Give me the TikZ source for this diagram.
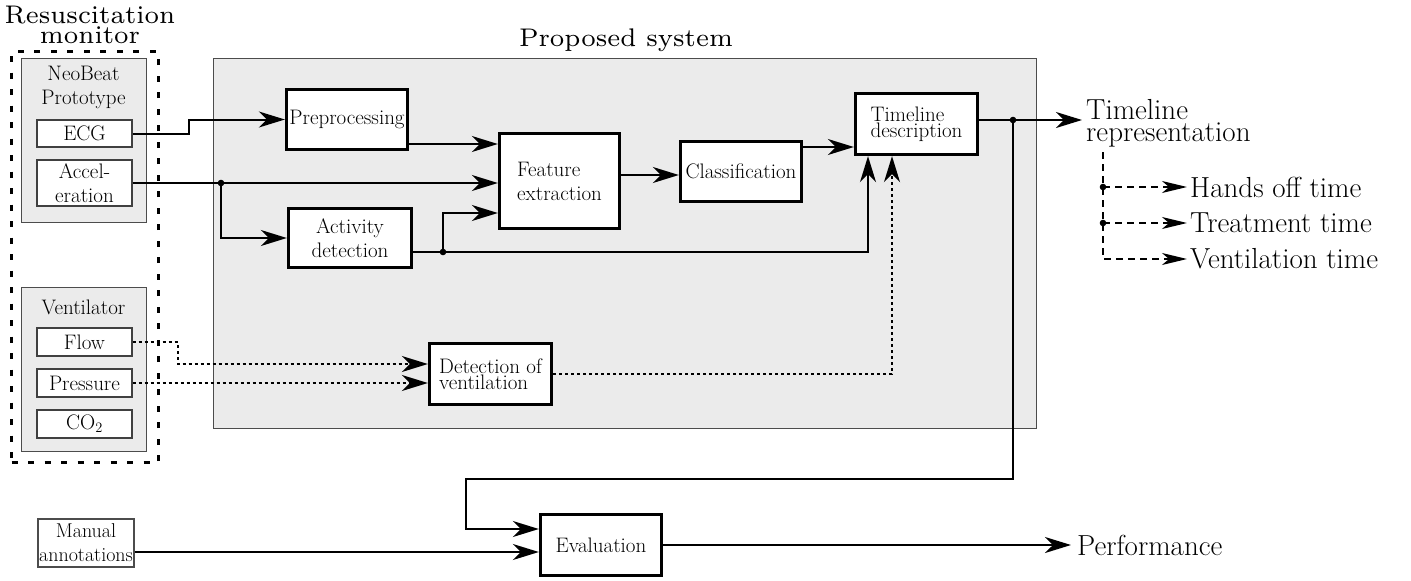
\documentclass[tikz,border=0pt]{standalone}
\usepackage{fontspec}
\newfontfamily\titlefont{lmroman7-regular.otf}
\usetikzlibrary{arrows.meta,calc}
\definecolor{bg}{HTML}{EBEBEB}
\newcommand\boxfont{\fontsize{21}{24}\selectfont}
\newcommand\manfont{\fontsize{20}{24}\selectfont}
\newcommand\tightfont{\fontsize{21}{16}\selectfont}
\newcommand\bigfont{\fontsize{29}{22}\selectfont}
\newcommand\ttlfont{\titlefont\fontsize{25.5}{20}\selectfont}
\tikzset{
  grp/.style={draw=black!70, line width=1.3pt, fill=bg, inner sep=0pt},
  sbox/.style={draw=black!75, line width=1.3pt, fill=white, minimum width=95pt, inner sep=0pt, font=\boxfont, align=center},
  mbox/.style={draw, line width=3.3pt, fill=white, inner sep=0pt, font=\boxfont},
  conn/.style={line width=2pt, -{Stealth[length=26pt,width=16pt,inset=8pt]}},
  plain/.style={line width=2pt},
  dotline/.style={line width=2pt, dash pattern=on 3pt off 3pt, -{Stealth[length=26pt,width=16pt,inset=8pt]}},
  dashline/.style={line width=1.5pt, dash pattern=on 7pt off 5pt, -{Stealth[length=25pt,width=12pt,inset=7pt]}},
  lbl/.style={font=\bigfont, inner ysep=0pt}
}
\begin{document}
\begin{tikzpicture}[x=1pt,y=-1pt]
\useasboundingbox (0,0) rectangle (1411,581);

% proposed system
\node[grp, minimum width=823pt, minimum height=370pt, anchor=north west] (sys) at (213,58) {};
\node[font=\ttlfont, anchor=base] (syslbl) at (626,46) {Proposed system};

% resuscitation monitor
\node[draw, line width=3pt, dash pattern=on 6pt off 10.5pt, minimum width=147pt, minimum height=411pt, anchor=north west, inner sep=0pt] (mon) at (10,50) {};
\node[font=\ttlfont, align=center, anchor=north, inner sep=0pt] (monlbl) at (90,5.5) {Resuscitation\\monitor};

\node[grp, minimum width=125pt, minimum height=164pt, anchor=north west] (neo) at (21,58) {};
\node[font=\boxfont, align=center] (neolbl) at (83.5,87) {NeoBeat\\Prototype};
\node[sbox, minimum height=27pt] (ecg) at (84.5,133.5) {ECG};
\node[sbox, minimum height=46pt] (acc) at (84.5,183) {Accel-\\eration};

\node[grp, minimum width=125pt, minimum height=164pt, anchor=north west] (ven) at (21,287) {};
\node[font=\boxfont] (venlbl) at (83.5,307) {Ventilator};
\node[sbox, minimum height=28pt] (flow) at (84.5,342) {Flow};
\node[sbox, minimum height=28pt] (pres) at (84.5,383) {Pressure};
\node[sbox, minimum height=28pt] (co2) at (84.5,424) {CO$_2$};

% main boxes
\node[mbox, minimum width=121pt, minimum height=60pt] (pre) at (347,119.5) {Preprocessing};
\node[mbox, minimum width=120pt, minimum height=95pt, align=left] (feat) at (559.5,181) {Feature\\extraction};
\node[mbox, minimum width=121pt, minimum height=60pt] (cls) at (741,171.5) {Classification};
\node[mbox, minimum width=122pt, minimum height=61pt, align=left, font=\tightfont] (tl) at (916.5,124) {Timeline\\description};
\node[mbox, minimum width=123pt, minimum height=59pt, align=center] (act) at (350,238) {Activity\\detection};
\node[mbox, minimum width=122pt, minimum height=61pt, align=left, font=\tightfont] (det) at (490.5,374) {Detection of\\ventilation};
\node[mbox, minimum width=121pt, minimum height=61pt] (eval) at (601,545) {Evaluation};
\node[sbox, minimum width=96pt, minimum height=48pt, draw=black!70, font=\manfont] (man) at (86,543) {Manual\\annotations};

% outputs
\node[lbl, align=left, anchor=north west, inner xsep=4pt] (tr) at (1082,99) {Timeline\\representation};
\node[lbl, anchor=west, inner xsep=3pt] (ho) at (1187,187) {Hands off time};
\node[lbl, anchor=west, inner xsep=3pt] (tt) at (1187,223) {Treatment time};
\node[lbl, anchor=west, inner xsep=3pt] (vt) at (1187,259) {Ventilation time};
\node[lbl, anchor=west, inner xsep=6pt] (perf) at (1071,545) {Performance};

% coordinates
\coordinate (j1) at (221,183);
\coordinate (j2) at (443,252);
\coordinate (j3) at (1013,120);
\coordinate (lp) at (466,479);
\coordinate (tv) at (1103,152);
\coordinate (d1) at (1103,187);
\coordinate (d2) at (1103,223);

% connectors
\draw[conn] (ecg.east) -- ++(56,0) |- (pre.west);
\draw[conn] (acc.east) -- (acc.east -| feat.west);
\draw[conn] (j1) |- (act.west);
\draw[conn] ([yshift=-24.5pt]pre.east) -- ([yshift=-24.5pt]pre.east -| feat.west);
\draw[plain] (act.east |- j2) -- (j2);
\draw[conn] (j2) |- ([yshift=-32pt]feat.west);
\draw[conn] (j2) -| ([xshift=-48.5pt]tl.south);
\draw[conn] ([yshift=-3.5pt]cls.west -| feat.east) -- ([yshift=-3.5pt]cls.west);
\draw[conn] ([yshift=-23pt]tl.west -| cls.east) -- ([yshift=-23pt]tl.west);
\draw[dotline] (flow.east) -- ++(45,0) |- ([yshift=10pt]det.west);
\draw[dotline] (pres.east) -- (pres.east -| det.west);
\draw[dotline] (det.east) -| ([xshift=-24.5pt]tl.south);
\draw[conn] ([yshift=4pt]tl.east) -- (j3 -| tr.west);
\draw[conn] (j3) |- (lp) |- ([yshift=16pt]eval.west);
\draw[conn] ([yshift=-9pt]man.east) -- ([yshift=-9pt]man.east -| eval.west);
\draw[conn] (eval.east) -- (perf.west);
\draw[dashline] (tv) |- (vt.west);
\draw[dashline] (d1) -- (ho.west);
\draw[dashline] (d2) -- (tt.west);

% junction dots
\foreach \p in {j1,j2,j3,d1,d2} \fill (\p) circle (3.3pt);
\end{tikzpicture}
\end{document}
